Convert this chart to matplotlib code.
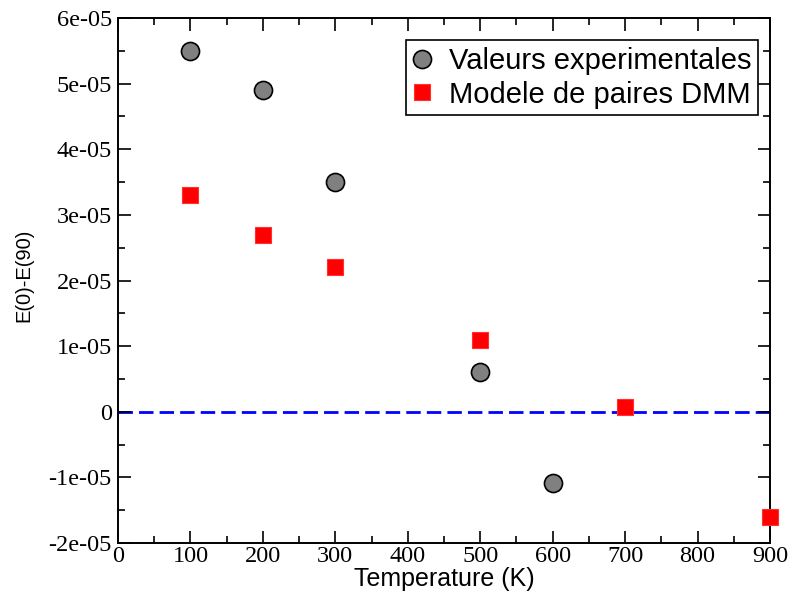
import matplotlib
matplotlib.use("Agg")
import matplotlib.pyplot as plt
from matplotlib.ticker import MultipleLocator, FuncFormatter

temp_exp = [100, 200, 300, 500, 600]
val_exp = [5.5e-5, 4.9e-5, 3.5e-5, 0.6e-5, -1.08e-5]
temp_dmm = [100, 200, 300, 500, 700, 900]
val_dmm = [3.3e-5, 2.7e-5, 2.2e-5, 1.1e-5, 0.07e-5, -1.6e-5]
xticks = [0, 100, 200, 300, 400, 500, 600, 700, 800, 900]
yticks = [-2e-5, -1e-5, 0, 1e-5, 2e-5, 3e-5, 4e-5, 5e-5, 6e-5]

fig = plt.figure(figsize=(7.93, 5.99), dpi=100)
ax = fig.add_axes([118/793, 1-543/599, (770-118)/793, (543-18)/599])

ax.axhline(0, color='#0000ff', lw=2.0, ls=(0, (5.2, 2.2)), zorder=1)
ax.plot(temp_exp, val_exp, 'o', ms=13, mfc='#808080', mec='black', mew=1.2,
        ls='none', label='Valeurs experimentales', clip_on=False, zorder=3)
ax.plot(temp_dmm, val_dmm, 's', ms=11.5, mfc='#ff0000', mec='#ff3030', mew=0.8,
        ls='none', label='Modele de paires DMM', clip_on=False, zorder=3)

ax.set_xlim(0, 900)
ax.set_ylim(-2e-5, 6e-5)
ax.set_xticks(xticks)
ax.set_yticks(yticks)
ax.xaxis.set_minor_locator(MultipleLocator(50))
ax.yaxis.set_minor_locator(MultipleLocator(0.5e-5))

def yfmt(v, pos):
    if abs(v) < 1e-12:
        return '0'
    return ('%.0e' % v)
ax.yaxis.set_major_formatter(FuncFormatter(yfmt))

ax.tick_params(which='both', direction='in', top=True, right=True, width=1.2)
ax.tick_params(which='major', length=9, labelsize=17.5)
ax.tick_params(which='minor', length=4.8)
for lab in ax.get_xticklabels() + ax.get_yticklabels():
    lab.set_family('Liberation Serif')
ax.tick_params(axis='x', pad=2.5)
ax.tick_params(axis='y', pad=4.5)
for s in ax.spines.values():
    s.set_linewidth(1.4)

ax.set_xlabel('Temperature (K)', fontsize=18, family='Liberation Sans', va='top')
ax.xaxis.set_label_coords(0.5, -0.046)
ax.set_ylabel('E(0)-E(90)', fontsize=14.5, family='Liberation Sans')
ax.yaxis.set_label_coords(-0.130, 0.509)

leg = ax.legend(loc='upper right', bbox_to_anchor=(758/793, 1-40/599), bbox_transform=fig.transFigure,
                prop={'family': 'Liberation Sans', 'size': 21}, fancybox=False, framealpha=1,
                edgecolor='black', handletextpad=0.62, borderpad=0.23, labelspacing=0.2,
                handlelength=0.62, borderaxespad=0)
leg.get_frame().set_linewidth(1.2)

fig.savefig('out.png', dpi=100)
